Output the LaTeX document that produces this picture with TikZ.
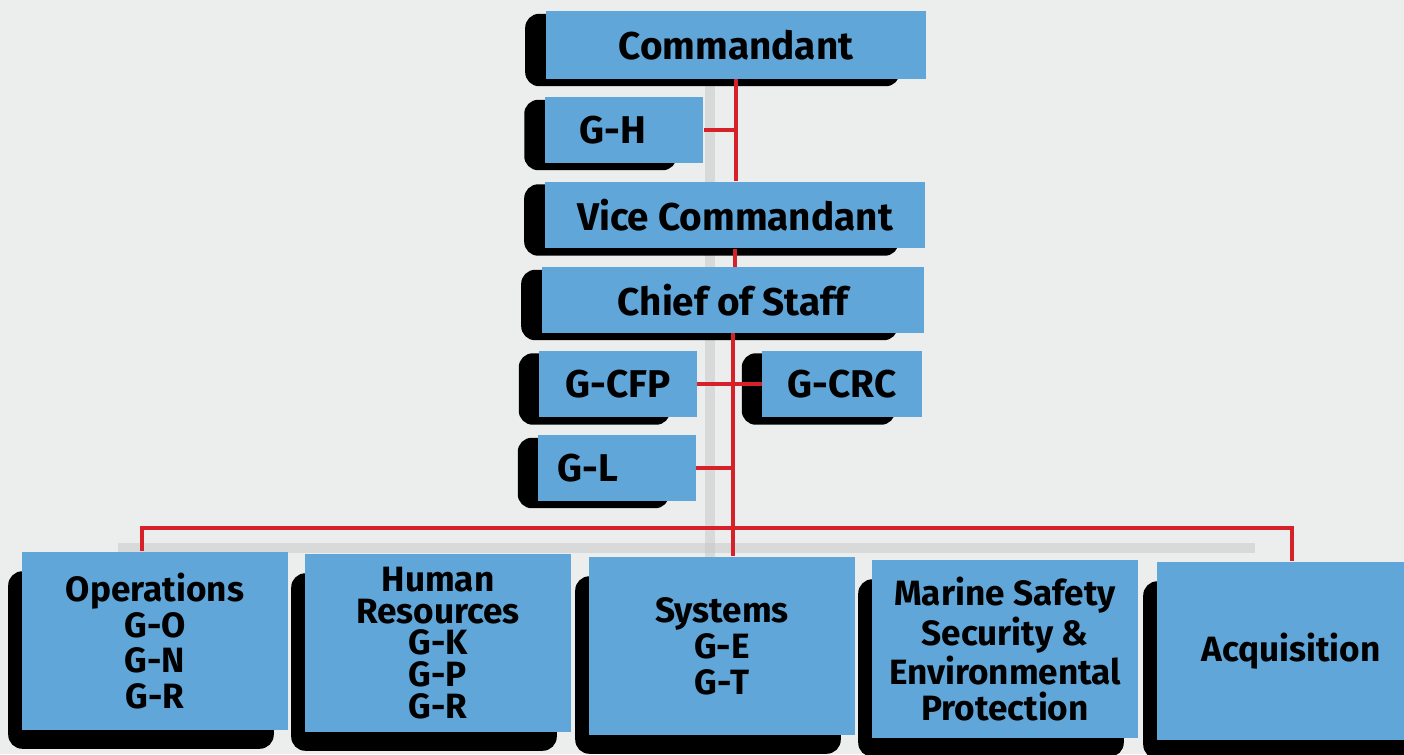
\documentclass[tikz,border=0pt]{standalone}
\usepackage{fontspec}
\setmainfont{Fira Sans}
\usetikzlibrary{positioning, calc, backgrounds}
\definecolor{unitblue}{RGB}{96,166,216}
\definecolor{linkred}{RGB}{214,32,42}
\definecolor{paper}{RGB}{236,238,238}

\begin{document}
\begin{tikzpicture}[x=0.01cm, y=-0.01cm,
    unit/.style={fill=unitblue, inner sep=0pt, align=center,
      font=\fontsize{11}{13}\selectfont\bfseries},
    division/.style={unit, minimum width=2.66cm, minimum height=1.78cm,
      font=\fontsize{10}{10.2}\selectfont\bfseries},
    boxshadow/.style={fill=black, rounded corners=4pt},
    link/.style={linkred, line width=1.2pt},
    linkshade/.style={gray!45, line width=3pt, opacity=0.5}]
    \useasboundingbox (0,0) rectangle (1404,754);
    % Comando
    \node[unit, minimum width=3.8cm, minimum height=0.67cm] (cmdt) at (736,45) {Commandant};
    \node[unit, minimum height=0.65cm, text width=0.88cm, inner xsep=0.35cm, align=left] (gh) at (624,130) {G-H};
    \node[unit, minimum width=3.8cm, minimum height=0.66cm] (vice) at (735,215) {Vice Commandant};
    \node[unit, minimum width=3.82cm, minimum height=0.65cm] (cos) at (733,300) {Chief of Staff};
    % Staff
    \node[unit, minimum width=1.57cm, minimum height=0.66cm] (gcfp) at (618,384) {G-CFP};
    \node[unit, minimum width=1.59cm, minimum height=0.66cm] (gcrc) at (842,384) {G-CRC};
    \node[unit, minimum height=0.65cm, text width=1.19cm, inner xsep=0.19cm, align=left] (gl) at (617,468) {G-L};
    % Diretorias
    \node[division] (ops) at (155,641) {Operations\\G-O\\G-N\\G-R};
    \node[division, font=\fontsize{10}{9}\selectfont\bfseries] (hr) at (438,643) {Human\\Resources\\G-K\\G-P\\G-R};
    \node[division] (sys) at (722,646) {Systems\\G-E\\G-T};
    \node[division] (msep) at (1005,649) {Marine Safety\\Security \&\\Environmental\\Protection};
    \node[division, minimum width=2.68cm] (acq) at (1291,651) {Acquisition};
    % Sombras
    \begin{pgfonlayer}{background}
      \fill[paper] (0,0) rectangle (1404,754);
      \draw[linkshade] (710,80) -- (710,560);
      \draw[linkshade] (118,548) -- (1255,548);
      \foreach \n in {cmdt,gh,vice,cos,gcfp,gcrc,gl}
        \fill[boxshadow] ([xshift=-0.2cm,yshift=-0.03cm]\n.north west) rectangle ([xshift=-0.27cm,yshift=-0.07cm]\n.south east);
      \foreach \n in {ops,hr,sys,msep,acq}
        \fill[boxshadow] ([xshift=-0.13cm,yshift=-0.2cm]\n.north west) rectangle ([xshift=-0.15cm,yshift=-0.18cm]\n.south east);
    \end{pgfonlayer}
    % Ligações
    \draw[link] (cmdt.south) -- (cmdt.south |- vice.north);
    \draw[link] (gh.east) -- (gh.east -| cmdt.south);
    \draw[link] (vice.south) -- (vice.south |- cos.north);
    \draw[link] (cos.south) -- (cos.south |- sys.north);
    \draw[link] (gcfp.east) -- (gcrc.west);
    \draw[link] (gl.east) -- (gl.east -| cos.south);
    \coordinate (busL) at (142,528);
    \coordinate (busR) at (1292,528);
    \draw[link] (busL |- ops.north) -- (busL) -- (busR) -- (busR |- acq.north);
\end{tikzpicture}
\end{document}
